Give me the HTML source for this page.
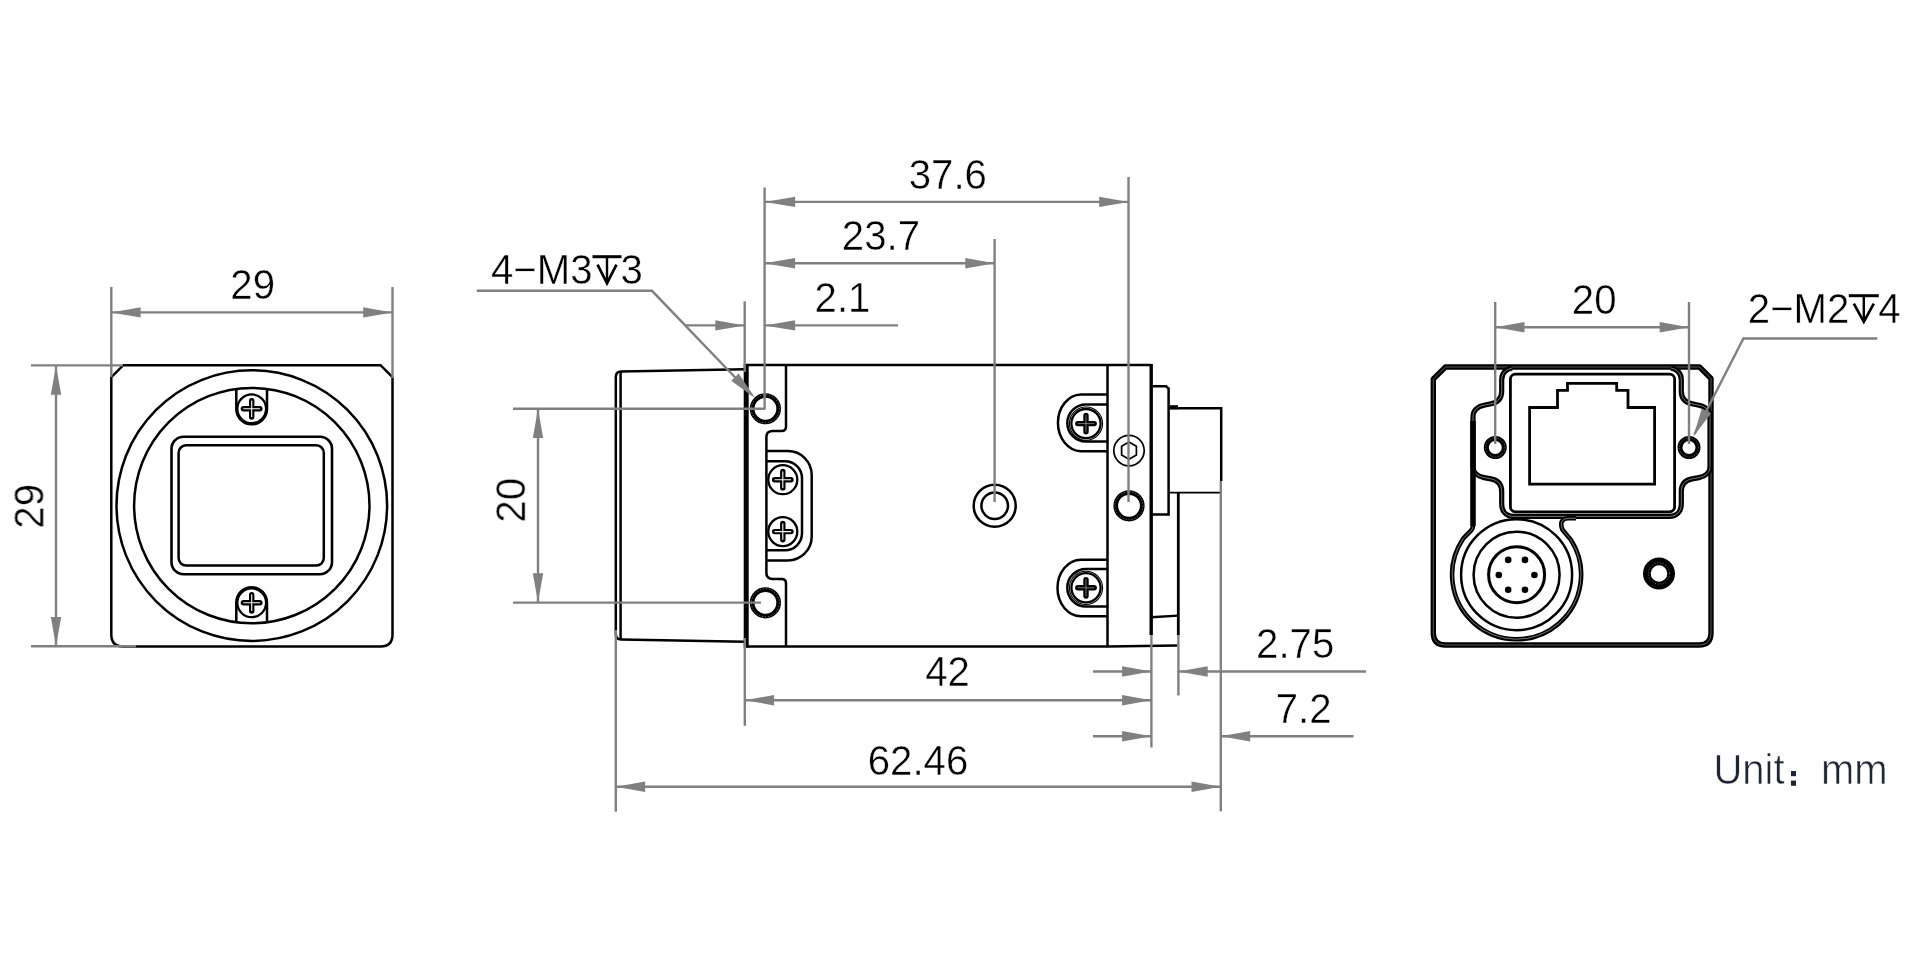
<!DOCTYPE html>
<html><head><meta charset="utf-8"><title>Dimension drawing</title>
<style>
html,body{margin:0;padding:0;background:#fff;}
body{width:1920px;height:960px;overflow:hidden;font-family:"Liberation Sans",sans-serif;}
svg{display:block;}
.k{stroke:#000;stroke-width:2.5;fill:none;}
.g{stroke:#808080;stroke-width:2.4;fill:none;}
.a{fill:#808080;stroke:none;}
text{font-family:"Liberation Sans",sans-serif;fill:#000;}
.t{stroke:#fff;stroke-width:0.4;}
.tg{filter:url(#noLcd);}
.u{fill:#1f2633;stroke:#fff;stroke-width:0.6;}
</style></head><body>
<svg width="1920" height="960" viewBox="0 0 1920 960">
<defs><filter id="noLcd" x="0" y="0" width="1920" height="960" filterUnits="userSpaceOnUse"><feOffset dx="0" dy="0"/></filter></defs>
<rect width="1920" height="960" fill="#fff"/>
<!-- left view -->
<path class="k" d="M123.3,365.2 H380.5 L392.5,377.2 V634.4 Q392.5,646.4 380.5,646.4 H123.3 Q111.3,646.4 111.3,634.4 V377.2 Z"/>
<circle class="k" cx="251.8" cy="505.6" r="135.3"/>
<circle class="k" cx="251.8" cy="505.6" r="117.7"/>
<rect class="k" x="171.5" y="436.7" width="160.5" height="137.5" rx="12" style="stroke-width:2.6"/>
<rect class="k" x="178.6" y="445.3" width="145.2" height="120.3" rx="7.5"/>
<path class="k" d="M236.3,389 V409 A15.35,15.35 0 0 0 267,409 V389"/>
<path class="k" d="M236.3,622.3 V602.6 A15.35,15.35 0 0 1 267,602.6 V622.3"/>
<circle class="k" cx="251.7" cy="408.8" r="14.4" style="stroke-width:2.3"/><path d="M243.4,408.8 H259.9 M251.7,400.6 V417.0" stroke="#000" stroke-width="5.4" stroke-linecap="round" fill="none"/><path d="M243.4,408.8 H259.9 M251.7,400.6 V417.0" stroke="#fff" stroke-width="1.1" stroke-linecap="butt" fill="none"/>
<circle class="k" cx="251.7" cy="602.8" r="14.4" style="stroke-width:2.3"/><path d="M243.4,602.8 H259.9 M251.7,594.6 V611.0" stroke="#000" stroke-width="5.4" stroke-linecap="round" fill="none"/><path d="M243.4,602.8 H259.9 M251.7,594.6 V611.0" stroke="#fff" stroke-width="1.1" stroke-linecap="butt" fill="none"/>
<line class="g" x1="111.3" y1="287.0" x2="111.3" y2="377.0"/>
<line class="g" x1="392.5" y1="287.0" x2="392.5" y2="378.0"/>
<line class="g" x1="111.3" y1="312.4" x2="392.5" y2="312.4"/>
<polygon class="a" points="111.3,312.4 140.6,307.2 140.6,317.6"/>
<polygon class="a" points="392.5,312.4 363.2,307.2 363.2,317.6"/>
<line class="g" x1="31.0" y1="365.4" x2="123.0" y2="365.4"/>
<line class="g" x1="31.0" y1="646.2" x2="136.0" y2="646.2"/>
<line class="g" x1="56.0" y1="365.4" x2="56.0" y2="646.2"/>
<polygon class="a" points="56.0,365.4 50.8,394.7 61.2,394.7"/>
<polygon class="a" points="56.0,646.2 50.8,616.9 61.2,616.9"/>
<!-- middle view -->
<path class="k" d="M745,369.3 L621,371.6 Q615.8,371.8 615.8,377 V634 Q615.8,639.4 621,639.6 L745,641.8"/>
<path class="k" d="M620.6,371.6 V639.6"/>
<path d="M746.2,364 V647.5" stroke="#000" stroke-width="5" fill="none"/>
<path class="k" d="M746,365 H1151.2 M746,646.4 H1107.5 L1177.5,645.4"/>
<path class="k" d="M786,365 V426.5 Q786,431 781.5,431 H772 Q766.4,431.4 766.4,437 V573 Q766.4,578.4 772,579 H781.5 Q786,579 786,583.3 V646.4"/>
<circle cx="765.4" cy="408.75" r="13.25" stroke="#000" stroke-width="4.7" fill="none"/>
<circle cx="765.4" cy="408.75" r="14" stroke="#fff" stroke-width="0.45" fill="none" stroke-dasharray="1.2 1.8"/>
<circle cx="765.4" cy="602.80" r="13.25" stroke="#000" stroke-width="4.7" fill="none"/>
<circle cx="765.4" cy="602.80" r="14" stroke="#fff" stroke-width="0.45" fill="none" stroke-dasharray="1.2 1.8"/>
<path class="k" d="M766.4,451 H788 A23.7,24 0 0 1 811.7,475 V536.5 A23.7,24 0 0 1 788,560.5 H766.4"/>
<path class="k" d="M766.4,461.2 H785 A17,17 0 0 1 802,478.2 V533.3 A17,17 0 0 1 785,550.3 H766.4"/>
<circle class="k" cx="782.8" cy="479.7" r="14.5" style="stroke-width:2.3"/><path d="M774.6,479.7 H791.0 M782.8,471.5 V487.9" stroke="#000" stroke-width="5.4" stroke-linecap="round" fill="none"/><path d="M774.6,479.7 H791.0 M782.8,471.5 V487.9" stroke="#fff" stroke-width="1.1" stroke-linecap="butt" fill="none"/>
<circle class="k" cx="782.8" cy="531.6" r="14.5" style="stroke-width:2.3"/><path d="M774.6,531.6 H791.0 M782.8,523.4 V539.8" stroke="#000" stroke-width="5.4" stroke-linecap="round" fill="none"/><path d="M774.6,531.6 H791.0 M782.8,523.4 V539.8" stroke="#fff" stroke-width="1.1" stroke-linecap="butt" fill="none"/>
<circle class="k" cx="994.7" cy="505.8" r="21"/><circle class="k" cx="994.7" cy="505.8" r="13.3"/>
<path class="k" d="M1107.5,365 V646.4"/>
<path d="M1151.2,364 V635" stroke="#000" stroke-width="3.4" fill="none"/>
<path class="k" d="M1107.5,394.40 H1081 A23.5,28.43 0 0 0 1081,451.25 H1107.5"/>
<path class="k" d="M1107.5,404.40 H1086 A18.7,18.60 0 0 0 1086,441.60 H1107.5"/>
<circle cx="1086" cy="423.60" r="16.6" stroke="#000" stroke-width="1.1" fill="none"/>
<circle class="k" cx="1086.0" cy="423.6" r="14.6" style="stroke-width:2.3"/><path d="M1077.8,423.6 H1094.2 M1086.0,415.4 V431.8" stroke="#000" stroke-width="5.4" stroke-linecap="round" fill="none"/><path d="M1077.8,423.6 H1094.2 M1086.0,415.4 V431.8" stroke="#fff" stroke-width="0.45" stroke-linecap="butt" fill="none"/>
<path class="k" d="M1107.5,559.70 H1081 A23.5,28.27 0 0 0 1081,616.25 H1107.5"/>
<path class="k" d="M1107.5,569.00 H1086 A18.7,18.75 0 0 0 1086,606.50 H1107.5"/>
<circle cx="1086" cy="587.80" r="16.6" stroke="#000" stroke-width="1.1" fill="none"/>
<circle class="k" cx="1086.0" cy="587.8" r="14.6" style="stroke-width:2.3"/><path d="M1077.8,587.8 H1094.2 M1086.0,579.6 V596.0" stroke="#000" stroke-width="5.4" stroke-linecap="round" fill="none"/><path d="M1077.8,587.8 H1094.2 M1086.0,579.6 V596.0" stroke="#fff" stroke-width="0.45" stroke-linecap="butt" fill="none"/>
<circle class="k" cx="1129.0" cy="450.6" r="15.2" style="stroke-width:1.7"/>
<polygon class="k" points="1129.0,442.0 1136.4,446.3 1136.4,454.9 1129.0,459.2 1121.6,454.9 1121.6,446.3" style="stroke-width:1.7"/>
<circle cx="1129" cy="505.8" r="13.25" stroke="#000" stroke-width="4.7" fill="none"/>
<circle cx="1129" cy="505.8" r="14" stroke="#fff" stroke-width="0.45" fill="none" stroke-dasharray="1.2 1.8"/>
<path class="k" d="M1151.2,386.3 H1166 L1168.6,388.5 V514.6 H1151.2"/>
<path class="k" d="M1168.6,408.2 H1221.2 V481"/>
<path d="M1169.5,407.2 H1178" stroke="#000" stroke-width="4" fill="none"/>
<path class="k" d="M1168.6,492.6 H1221.2" style="stroke-width:1.8"/>
<path class="k" d="M1178.3,492.6 V635" style="stroke-width:2.8"/>
<path class="k" d="M1151.2,617.3 L1178.3,615.6" style="stroke-width:2.4"/>
<line class="g" x1="764.6" y1="187.5" x2="764.6" y2="408.8"/>
<line class="g" x1="994.6" y1="239.0" x2="994.6" y2="502.0"/>
<line class="g" x1="1128.5" y1="177.0" x2="1128.5" y2="502.0"/>
<line class="g" x1="744.7" y1="301.3" x2="744.7" y2="372.0"/>
<line class="g" x1="764.6" y1="201.9" x2="1128.5" y2="201.9"/>
<polygon class="a" points="764.6,201.9 795.1,196.7 795.1,207.1"/>
<polygon class="a" points="1128.5,201.9 1099.2,196.7 1099.2,207.1"/>
<line class="g" x1="764.6" y1="263.3" x2="994.6" y2="263.3"/>
<polygon class="a" points="764.6,263.3 795.1,258.1 795.1,268.5"/>
<polygon class="a" points="994.6,263.3 965.3,258.1 965.3,268.5"/>
<line class="g" x1="685.0" y1="325.4" x2="744.7" y2="325.4"/>
<polygon class="a" points="744.7,325.4 715.4,320.2 715.4,330.6"/>
<line class="g" x1="764.6" y1="325.4" x2="898.0" y2="325.4"/>
<polygon class="a" points="764.6,325.4 795.1,320.2 795.1,330.6"/>
<path class="g" d="M476.7,290.8 H652 L752,395"/>
<polygon class="a" points="755.0,398.0 731.2,380.7 738.7,373.5"/>
<path d="M592.5,256.7 H621.5" stroke="#000" stroke-width="3" fill="none"/><path d="M607.0,256.5 V283.2" stroke="#000" stroke-width="2.4" fill="none"/><path d="M597.5,264.7 L607.0,283.2 L616.5,264.7" stroke="#000" stroke-width="2.7" fill="none" stroke-linejoin="miter"/>
<line class="g" x1="513.0" y1="408.8" x2="765.3" y2="408.8"/>
<line class="g" x1="513.0" y1="602.6" x2="761.0" y2="602.6"/>
<line class="g" x1="538.0" y1="408.8" x2="538.0" y2="602.6"/>
<polygon class="a" points="538.0,408.8 532.8,438.1 543.2,438.1"/>
<polygon class="a" points="538.0,602.6 532.8,573.3 543.2,573.3"/>
<line class="g" x1="615.8" y1="630.0" x2="615.8" y2="811.7"/>
<line class="g" x1="744.8" y1="638.0" x2="744.8" y2="725.8"/>
<line class="g" x1="1151.4" y1="635.0" x2="1151.4" y2="747.5"/>
<line class="g" x1="1178.4" y1="635.0" x2="1178.4" y2="695.4"/>
<line class="g" x1="1220.8" y1="481.0" x2="1220.8" y2="811.3"/>
<line class="g" x1="744.8" y1="700.2" x2="1151.4" y2="700.2"/>
<polygon class="a" points="744.8,700.2 774.1,695.0 774.1,705.4"/>
<polygon class="a" points="1151.4,700.2 1122.1,695.0 1122.1,705.4"/>
<line class="g" x1="615.8" y1="786.7" x2="1220.8" y2="786.7"/>
<polygon class="a" points="615.8,786.7 645.1,781.5 645.1,791.9"/>
<polygon class="a" points="1220.8,786.7 1191.5,781.5 1191.5,791.9"/>
<line class="g" x1="1093.0" y1="671.5" x2="1151.4" y2="671.5"/>
<polygon class="a" points="1151.4,671.5 1122.1,666.3 1122.1,676.7"/>
<line class="g" x1="1178.4" y1="671.5" x2="1366.0" y2="671.5"/>
<polygon class="a" points="1178.4,671.5 1207.7,666.3 1207.7,676.7"/>
<line class="g" x1="1093.0" y1="736.3" x2="1151.4" y2="736.3"/>
<polygon class="a" points="1151.4,736.3 1122.1,731.1 1122.1,741.5"/>
<line class="g" x1="1220.8" y1="736.3" x2="1353.5" y2="736.3"/>
<polygon class="a" points="1220.8,736.3 1250.1,731.1 1250.1,741.5"/>
<!-- right view -->
<path d="M1445.5,367 H1699.5 L1711,378.5 V633 Q1711,645 1699,645 H1445.5 Q1433.3,645 1433.3,633 V379 Z" stroke="#000" stroke-width="5.4" fill="none" stroke-linejoin="round"/>
<path d="M1445.5,367 H1699.5 L1711,378.5 V633 Q1711,645 1699,645 H1445.5 Q1433.3,645 1433.3,633 V379 Z" stroke="#fff" stroke-width="0.35" fill="none" stroke-linejoin="round"/>
<path d="M1512,368 C1505,369.5 1501.7,374 1501.7,380 V391 C1501.7,398 1498,402.5 1491,403.8 L1484,405.2 C1477,406.5 1473,411 1473,417 V467 C1473,472 1477,476.3 1484,477.6 L1491,478.9 C1498,480.2 1501.7,484.7 1501.7,491.7 V504 C1501.7,511.5 1506,516.4 1514,516.4 H1669 C1677,516.4 1681.3,511.5 1681.3,504 V491.7 C1681.3,484.7 1685,480.2 1692,478.9 L1699,477.6 C1706,476.3 1710,472 1710,467 V417 C1710,411 1706,406.5 1699,405.2 L1692,403.8 C1685,402.5 1681.3,398 1681.3,391 V380 C1681.3,374 1678,369.5 1671,368" stroke="#000" stroke-width="5.2" fill="none" stroke-linejoin="round"/>
<path d="M1512,368 C1505,369.5 1501.7,374 1501.7,380 V391 C1501.7,398 1498,402.5 1491,403.8 L1484,405.2 C1477,406.5 1473,411 1473,417 V467 C1473,472 1477,476.3 1484,477.6 L1491,478.9 C1498,480.2 1501.7,484.7 1501.7,491.7 V504 C1501.7,511.5 1506,516.4 1514,516.4 H1669 C1677,516.4 1681.3,511.5 1681.3,504 V491.7 C1681.3,484.7 1685,480.2 1692,478.9 L1699,477.6 C1706,476.3 1710,472 1710,467 V417 C1710,411 1706,406.5 1699,405.2 L1692,403.8 C1685,402.5 1681.3,398 1681.3,391 V380 C1681.3,374 1678,369.5 1671,368" stroke="#fff" stroke-width="0.45" fill="none" stroke-linejoin="round"/>
<rect class="k" x="1510.4" y="374.2" width="164.2" height="137.6" rx="5" style="stroke-width:2.8"/>
<path class="k" style="stroke-width:2.8" d="M1529.6,407.5 H1557.5 V390.4 H1567.5 V383.3 H1616.7 V390.4 H1628 V407.5 H1654.6 V484.2 H1529.6 Z"/>
<circle cx="1495.3" cy="447.5" r="9" stroke="#000" stroke-width="5" fill="none"/>
<circle cx="1495.3" cy="447.5" r="9.6" stroke="#fff" stroke-width="0.35" fill="none" stroke-dasharray="1.2 1.6"/>
<circle cx="1689.0" cy="447.5" r="9" stroke="#000" stroke-width="5" fill="none"/>
<circle cx="1689.0" cy="447.5" r="9.6" stroke="#fff" stroke-width="0.35" fill="none" stroke-dasharray="1.2 1.6"/>
<path d="M1473,421 V526" stroke="#000" stroke-width="5.4" fill="none"/>
<path d="M1473,421 V525.5 Q1473,528.3 1471.2,530.4 L1463.1,538.7 A64.5,64.5 0 1 0 1570.7,539.6 L1562.3,529.5 Q1558.5,519 1568,518.3 H1576" stroke="#000" stroke-width="4.6" fill="none" stroke-linejoin="round"/>
<path d="M1473,527 Q1473,528.3 1471.2,530.4 L1463.1,538.7 A64.5,64.5 0 1 0 1570.7,539.6 L1562.3,529.5 Q1558.5,519 1568,518.3 H1576" stroke="#fff" stroke-width="0.45" fill="none" stroke-linejoin="round"/>
<circle class="k" cx="1516.6" cy="574.7" r="55.5"/>
<circle class="k" cx="1516.6" cy="574.7" r="43"/>
<circle class="k" cx="1516.6" cy="574.7" r="28" style="stroke-width:3"/>
<circle cx="1508.2" cy="559.9" r="3.3" fill="#000"/>
<circle cx="1525.0" cy="559.9" r="3.3" fill="#000"/>
<circle cx="1498.8" cy="575.0" r="3.3" fill="#000"/>
<circle cx="1534.4" cy="575.0" r="3.3" fill="#000"/>
<circle cx="1508.2" cy="589.7" r="3.3" fill="#000"/>
<circle cx="1525.0" cy="589.7" r="3.3" fill="#000"/>
<circle cx="1659" cy="573.5" r="12.15" stroke="#000" stroke-width="7.7" fill="none"/>
<circle cx="1659" cy="573.5" r="10.6" stroke="#fff" stroke-width="0.4" fill="none" stroke-dasharray="1.2 1.6"/>
<line class="g" x1="1495.2" y1="302.0" x2="1495.2" y2="444.0"/>
<line class="g" x1="1689.0" y1="302.0" x2="1689.0" y2="444.0"/>
<line class="g" x1="1495.2" y1="327.3" x2="1689.0" y2="327.3"/>
<polygon class="a" points="1495.2,327.3 1524.5,322.1 1524.5,332.5"/>
<polygon class="a" points="1689.0,327.3 1659.7,322.1 1659.7,332.5"/>
<path class="g" d="M1877.3,338.5 H1743.4 L1694.5,434"/>
<polygon class="a" points="1693.3,436.7 1701.8,408.5 1711.1,413.2"/>
<path d="M1848.8,295.7 H1878.8" stroke="#000" stroke-width="3" fill="none"/><path d="M1863.8,295.5 V321.8" stroke="#000" stroke-width="2.4" fill="none"/><path d="M1853.8,303.7 L1863.8,321.8 L1873.8,303.7" stroke="#000" stroke-width="2.7" fill="none" stroke-linejoin="miter"/>
<g class="tg">
<text class="t" font-size="39" text-anchor="middle" transform="translate(252.70 299.40) scale(1.03 1.085)" >29</text>
<text class="t" font-size="39" text-anchor="middle" transform="translate(43.60 506.30) rotate(-90) scale(1.03 1.085)" >29</text>
<text class="t" font-size="39" text-anchor="middle" transform="translate(947.80 189.00) scale(1.03 1.085)" >37.6</text>
<text class="t" font-size="39" text-anchor="middle" transform="translate(880.90 249.80) scale(1.03 1.085)" >23.7</text>
<text class="t" font-size="39" text-anchor="middle" transform="translate(842.50 311.90) scale(1.03 1.085)" >2.1</text>
<text class="t" font-size="39" text-anchor="start" transform="translate(491.00 284.20) scale(1.03 1.085)" >4−M3</text>
<text class="t" font-size="39" text-anchor="start" transform="translate(620.50 284.20) scale(1.03 1.085)" >3</text>
<text class="t" font-size="39" text-anchor="middle" transform="translate(525.30 500.20) rotate(-90) scale(1.03 1.085)" >20</text>
<text class="t" font-size="39" text-anchor="middle" transform="translate(947.50 685.60) scale(1.03 1.085)" >42</text>
<text class="t" font-size="39" text-anchor="middle" transform="translate(918.00 774.70) scale(1.03 1.085)" >62.46</text>
<text class="t" font-size="39" text-anchor="middle" transform="translate(1295.20 658.00) scale(1.03 1.085)" >2.75</text>
<text class="t" font-size="39" text-anchor="middle" transform="translate(1303.70 723.00) scale(1.03 1.085)" >7.2</text>
<text class="t" font-size="39" text-anchor="middle" transform="translate(1594.20 314.30) scale(1.03 1.085)" >20</text>
<text class="t" font-size="39" text-anchor="start" transform="translate(1747.80 322.80) scale(1.03 1.085)" >2−M2</text>
<text class="t" font-size="39" text-anchor="start" transform="translate(1878.20 322.80) scale(1.03 1.085)" >4</text>
<g fill="#1f2633">
<text class="u" font-size="40" text-anchor="start" transform="translate(1713.4 783.8) scale(1 1.07)">Unit</text>
<rect x="1791" y="771" width="5" height="5.2"/><rect x="1791" y="780.6" width="5" height="5.2"/>
<text class="u" font-size="40" text-anchor="start" transform="translate(1821 783.8) scale(1 1.07)">mm</text>
</g>
</g>
</svg>
</body></html>
